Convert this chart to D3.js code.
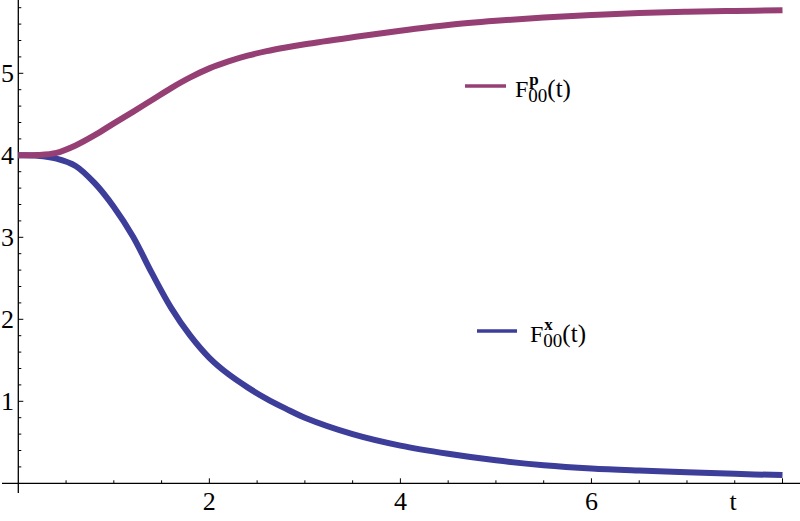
<!DOCTYPE html>
<html>
<head>
<meta charset="utf-8">
<script src="https://cdn.jsdelivr.net/npm/d3@7"></script>
</head>
<body style="margin:0">
<svg id="chart" width="800" height="521"></svg>
<script>
// ---- data ----
const tValues = [0, 0.2, 0.4, 0.6, 0.8, 1.0, 1.2, 1.4, 1.6, 1.8, 2.0, 2.2, 2.4, 2.6, 2.8, 3.0, 3.5, 4, 4.5, 5, 5.5, 6, 6.5, 7, 7.5, 8];
const fpValues = [4.0, 4.003, 4.03, 4.12, 4.245, 4.39, 4.53, 4.675, 4.82, 4.95, 5.06, 5.145, 5.215, 5.27, 5.315, 5.355, 5.44, 5.52, 5.59, 5.64, 5.68, 5.71, 5.735, 5.75, 5.76, 5.77];
const fxValues = [4.0, 3.995, 3.96, 3.87, 3.66, 3.37, 3.01, 2.56, 2.14, 1.80, 1.53, 1.33, 1.17, 1.03, 0.91, 0.80, 0.60, 0.46, 0.36, 0.28, 0.22, 0.18, 0.155, 0.135, 0.115, 0.10];
const xTickLabels = [2, 4, 6];
const yTickLabels = [1, 2, 3, 4, 5];
const seriesNames = ["p", "x"];

const svg = d3.select("#chart");
const x = d3.scaleLinear().domain([0, 8]).range([18.3, 782.5]);
const y = d3.scaleLinear().domain([0, 5]).range([483.3, 73.3]);

const colP = "#953f74";
const colX = "#3d3d9a";

function fontStyle(size, bold) {
  return "font-family: 'Liberation Serif' !important; font-size: " + size + "px" +
    (bold ? "; font-weight: bold" : "");
}

// ---- axes ----
svg.append("line").attr("x1", 2).attr("x2", 800).attr("y1", y(0)).attr("y2", y(0))
  .attr("stroke", "#000").attr("stroke-width", 1.3);
svg.append("line").attr("x1", x(0)).attr("x2", x(0)).attr("y1", 0).attr("y2", 493)
  .attr("stroke", "#000").attr("stroke-width", 1.3);

const xMinor = d3.range(0.5, 8.01, 0.5);
xMinor.forEach(v => {
  const major = Math.abs(v - Math.round(v / 2) * 2) < 1e-6;
  svg.append("line").attr("x1", x(v)).attr("x2", x(v))
    .attr("y1", y(0)).attr("y2", y(0) - (major ? 5 : 3))
    .attr("stroke", "#000").attr("stroke-width", 1);
});
const yMinor = d3.range(0.2, 5.85, 0.2);
yMinor.forEach(v => {
  const major = Math.abs(v - Math.round(v)) < 1e-6;
  svg.append("line").attr("x1", x(0)).attr("x2", x(0) + (major ? 5 : 3))
    .attr("y1", y(v)).attr("y2", y(v))
    .attr("stroke", "#000").attr("stroke-width", 1);
});

xTickLabels.forEach(v => {
  svg.append("text").attr("x", x(v)).attr("y", 510).attr("text-anchor", "middle")
    .attr("style", fontStyle(26)).text(String(v));
});
svg.append("text").attr("x", 733).attr("y", 510).attr("text-anchor", "middle")
  .attr("style", fontStyle(26)).text("t");
yTickLabels.forEach(v => {
  svg.append("text").attr("x", 14).attr("y", y(v) + 8.5).attr("text-anchor", "end")
    .attr("style", fontStyle(26)).text(String(v));
});

// ---- curves ----
const line = d3.line().curve(d3.curveCatmullRom.alpha(0.5));
const ptsX = tValues.map((t, i) => [x(t), y(fxValues[i])]);
const ptsP = tValues.map((t, i) => [x(t), y(fpValues[i])]);
svg.append("path").attr("d", line(ptsX)).attr("fill", "none")
  .attr("stroke", colX).attr("stroke-width", 6);
svg.append("path").attr("d", line(ptsP)).attr("fill", "none")
  .attr("stroke", colP).attr("stroke-width", 6);

// ---- legends ----
function legend(name, color, lx1, lx2, ly, fx, supW) {
  svg.append("line").attr("x1", lx1).attr("x2", lx2).attr("y1", ly).attr("y2", ly)
    .attr("stroke", color).attr("stroke-width", 3.5);
  const base = ly + 10.5;
  const t = svg.append("text").attr("x", fx).attr("y", base).attr("style", fontStyle(24));
  t.append("tspan").attr("style", fontStyle(24)).text("F");
  t.append("tspan").attr("dx", 1).attr("dy", -12).attr("style", fontStyle(17, true)).text(name);
  t.append("tspan").attr("dx", -supW - 1).attr("dy", 17.5).attr("style", fontStyle(19)).text("00");
  t.append("tspan").attr("dx", 0).attr("dy", -5.5).attr("style", fontStyle(25)).text("(t)");
}
legend(seriesNames[0], colP, 465, 506, 86, 515, 9.5);
legend(seriesNames[1], colX, 477, 517, 331, 530, 8.5);
</script>
</body>
</html>
